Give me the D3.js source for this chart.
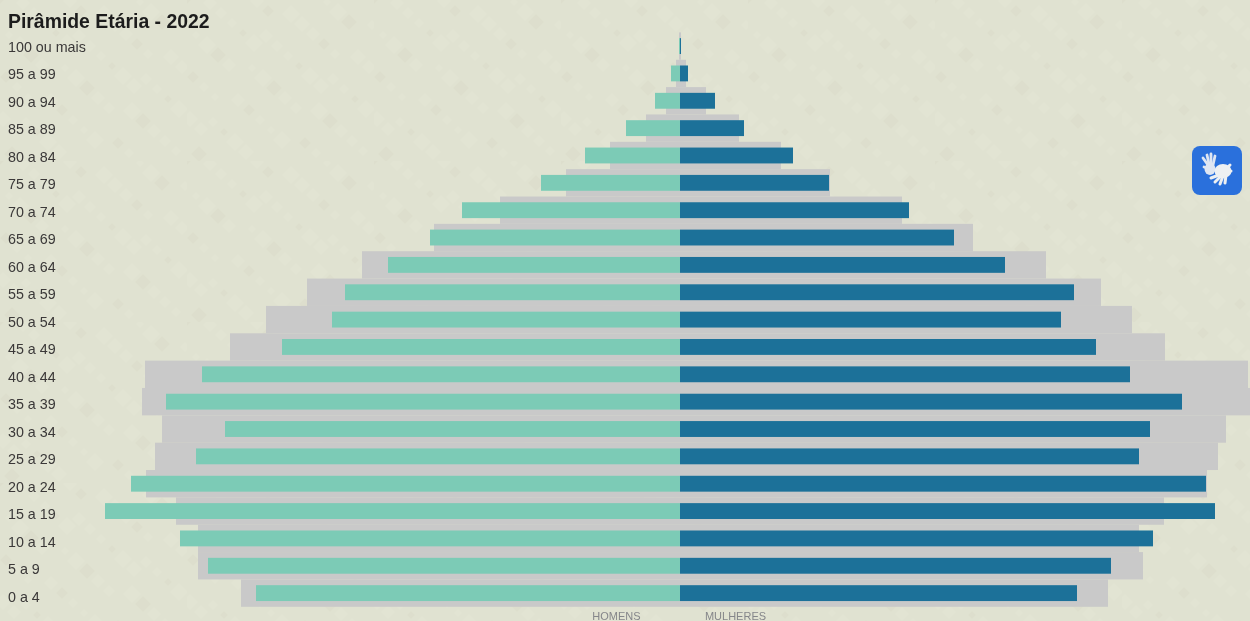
<!DOCTYPE html>
<html>
<head>
<meta charset="utf-8">
<script src="https://cdn.jsdelivr.net/npm/d3@7"></script>
<style>
  html, body { margin: 0; padding: 0; background: #e0e2d1; overflow: hidden; }
  text { font-family: "Liberation Sans", Arial, sans-serif; }
</style>
</head>
<body>
<div id="chart"></div>
<script>
// top row first
var ageGroups = ["100 ou mais", "95 a 99", "90 a 94", "85 a 89", "80 a 84", "75 a 79", "70 a 74",
    "65 a 69", "60 a 64", "55 a 59", "50 a 54", "45 a 49", "40 a 44", "35 a 39", "30 a 34",
    "25 a 29", "20 a 24", "15 a 19", "10 a 14", "5 a 9", "0 a 4"];
var men = [1, 9, 25, 54, 95, 139, 218, 250, 292, 335, 348, 398, 478, 514, 455, 484, 549, 575, 500, 472, 424];
var women = [1, 8, 35, 64, 113, 149, 229, 274, 325, 394, 381, 416, 450, 502, 470, 459, 526, 535, 473, 431, 397];
var menBack = [1, 4, 14, 34, 70, 114, 180, 246, 318, 373, 414, 450, 535, 538, 518, 525, 534, 504, 482, 482, 439];
var womenBack = [1, 6, 26, 59, 101, 150, 222, 293, 366, 421, 452, 485, 568, 580, 546, 538, 527, 484, 459, 463, 428];
var sideLabels = ["HOMENS", "MULHERES"];

var width = 1250, height = 621;

var svg = d3.select("#chart").append("svg")
    .attr("width", width)
    .attr("height", height)
    .style("display", "block");

var defs = svg.append("defs");
defs.append("filter").attr("id", "soft")
    .append("feGaussianBlur").attr("stdDeviation", 0.6);

// faint diamonds of the page wallpaper
var tile = defs.append("pattern")
    .attr("id", "paper")
    .attr("patternUnits", "userSpaceOnUse")
    .attr("width", 187)
    .attr("height", 161);
tile.append("rect").attr("width", 187).attr("height", 161).attr("fill", "#e0e2d1");
d3.range(60).forEach(function(i) {
    var cx = (i * 67) % 187, cy = (i * 43) % 161, s = 4 + (i * 5) % 6;
    var dark = i % 4 === 0;
    tile.append("path")
        .attr("d", "M" + cx + "," + (cy - s) + "L" + (cx + s) + "," + cy + "L" + cx + "," + (cy + s) + "L" + (cx - s) + "," + cy + "Z")
        .attr("fill", dark ? "#d3d2c1" : "#e5e7d8")
        .attr("opacity", dark ? 0.25 : 0.4);
});
svg.append("rect").attr("width", width).attr("height", height).attr("fill", "url(#paper)");

var x = d3.scaleLinear().domain([-600, 600]).range([80, 1280]);
var y = d3.scaleBand().domain(ageGroups).range([32.4, 606.8]);
var barY = d3.scaleBand().domain(ageGroups).range([32.4, 606.8]).paddingInner(0.42).paddingOuter(0.21);
var labelY = d3.scaleBand().domain(ageGroups).range([33.2, 610.7]);

var chart = svg.append("g").attr("filter", "url(#soft)");

function bars(values, cls, color, side, scale) {
    chart.selectAll("rect." + cls)
        .data(values)
        .enter().append("rect")
        .attr("class", cls)
        .attr("x", function(d) { return side < 0 ? x(-d) : x(0); })
        .attr("y", function(d, i) { return scale(ageGroups[i]); })
        .attr("width", function(d) { return x(d) - x(0); })
        .attr("height", scale.bandwidth())
        .attr("fill", color);
}

bars(menBack, "menBack", "#c9c9c9", -1, y);
bars(womenBack, "womenBack", "#c9c9c9", 1, y);
bars(men, "men", "#7ccbb6", -1, barY);
bars(women, "women", "#1a7199", 1, barY);

var axis = chart.append("g").call(d3.axisLeft(labelY).tickSize(0));
axis.select(".domain").remove();
axis.selectAll("text")
    .attr("x", 8)
    .attr("text-anchor", "start")
    .attr("fill", "#3a3838")
    .style("font-size", "14.3px")
    .style("font-family", "'Liberation Sans', Arial, sans-serif");

chart.append("text")
    .attr("x", 8)
    .attr("y", 28)
    .attr("fill", "#1c1c1c")
    .style("font-size", "19.4px")
    .style("font-weight", "bold")
    .text("Pirâmide Etária - 2022");

chart.selectAll("text.side")
    .data(sideLabels)
    .enter().append("text")
    .attr("class", "side")
    .attr("x", function(d, i) { return i === 0 ? 616.5 : 735.5; })
    .attr("y", 619.5)
    .attr("text-anchor", "middle")
    .attr("fill", "#85868a")
    .style("font-size", "11px")
    .text(function(d) { return d; });

// sign language button at the right edge
var btn = chart.append("g").attr("transform", "translate(1192,146)");
btn.append("rect").attr("width", 50).attr("height", 49).attr("rx", 8).attr("fill", "#2a70dc");
var hand1 = btn.append("g").attr("stroke", "#dfe6f2").attr("stroke-linecap", "round").attr("fill", "none");
[[16, 19, 11, 12], [17, 18, 15, 9], [19, 18, 19, 8], [21, 19, 23, 10], [17, 23, 12, 21]].forEach(function(f) {
    hand1.append("line").attr("x1", f[0]).attr("y1", f[1]).attr("x2", f[2]).attr("y2", f[3]).attr("stroke-width", 2.8);
});
hand1.append("ellipse").attr("cx", 18).attr("cy", 23).attr("rx", 5.5).attr("ry", 6).attr("fill", "#dfe6f2").attr("stroke", "none");
hand1.append("ellipse").attr("cx", 31).attr("cy", 25).attr("rx", 8.5).attr("ry", 7).attr("fill", "#eef0f2").attr("stroke", "none");
[[36, 21, 38, 19], [37, 25, 39, 25], [27, 29, 19, 32], [29, 30, 23, 36], [31, 30, 28, 38], [34, 29, 33, 37]].forEach(function(f) {
    hand1.append("line").attr("x1", f[0]).attr("y1", f[1]).attr("x2", f[2]).attr("y2", f[3]).attr("stroke-width", 3).attr("stroke", "#eef0f2");
});
</script>
</body>
</html>
